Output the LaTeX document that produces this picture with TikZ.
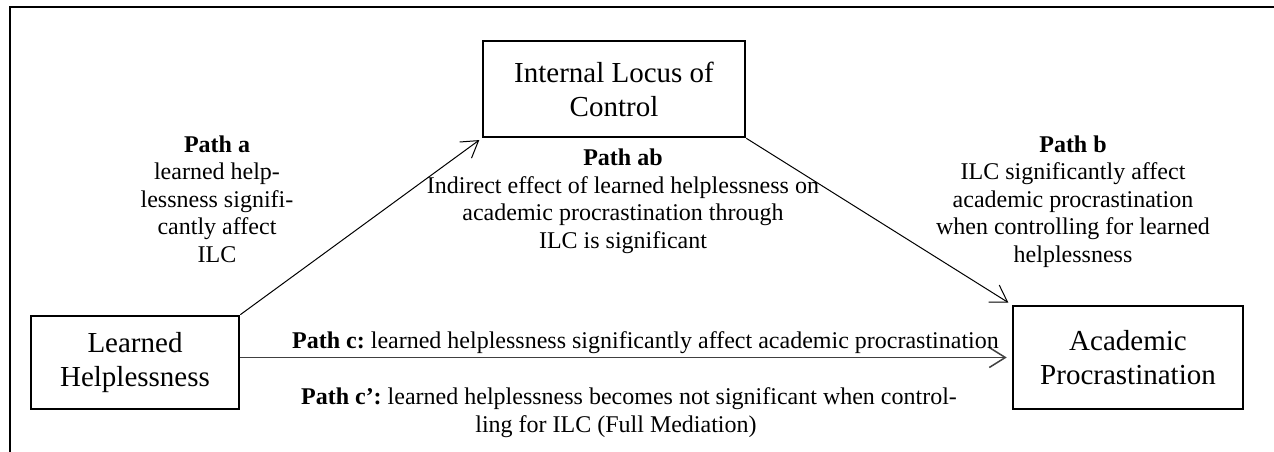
\documentclass[tikz,border=0pt]{standalone}
\usepackage{fontspec}
\setmainfont{Liberation Serif}
\usetikzlibrary{arrows.meta}
\frenchspacing
\begin{document}
\begin{tikzpicture}[x=1pt,y=-1pt,
  var/.style={draw, line width=2.6pt, inner sep=0pt, align=center, font=\fontsize{29}{34}\selectfont},
  lab/.style={align=center, inner sep=0pt, anchor=base, font=\fontsize{24}{27.5}\selectfont},
  arr/.style={-{Straight Barb[length=16pt,width=20pt]}, line width=1pt}
]
\useasboundingbox (0,0) rectangle (1274,452);
\draw[line width=2.5pt] (10,452) -- (10,7) -- (1274,7);
\node[var, minimum width=208pt, minimum height=93pt] (lh) at (135,362.5) {Learned\\Helplessness};
\node[var, minimum width=262pt, minimum height=96pt] (ilc) at (614,89) {Internal Locus of\\Control};
\node[var, minimum width=230pt, minimum height=103pt] (ap) at (1128,357.5) {Academic\\Procrastination};
\draw[arr, shorten >=3pt] (lh.north east) -- (ilc.south west);
\draw[arr, shorten >=4pt] (ilc.south east) -- (ap.north west);
\draw[arr, line width=1.5pt, black!75, shorten >=5pt] (lh.east |- ap.west) -- (ap.west);
\node[lab] (pa) at (217,262) {\textbf{Path a}\\learned help-\\lessness signifi-\\cantly affect\\ILC};
\node[lab] (pab) at (623,248) {\textbf{Path ab}\\Indirect effect of learned helplessness on\\academic procrastination through\\ILC is significant};
\node[lab] (pb) at (1073,262) {\textbf{Path b}\\ILC significantly affect\\academic procrastination\\when controlling for learned\\helplessness};
\node[lab] (pc) at (645.5,348) {\textbf{Path c:} learned helplessness significantly affect academic procrastination};
\node[lab] (pcp) at (629,432) {\textbf{Path c’:} learned helplessness becomes not significant when control-\\ling for ILC (Full Mediation)\hspace*{26pt}};
\end{tikzpicture}
\end{document}
